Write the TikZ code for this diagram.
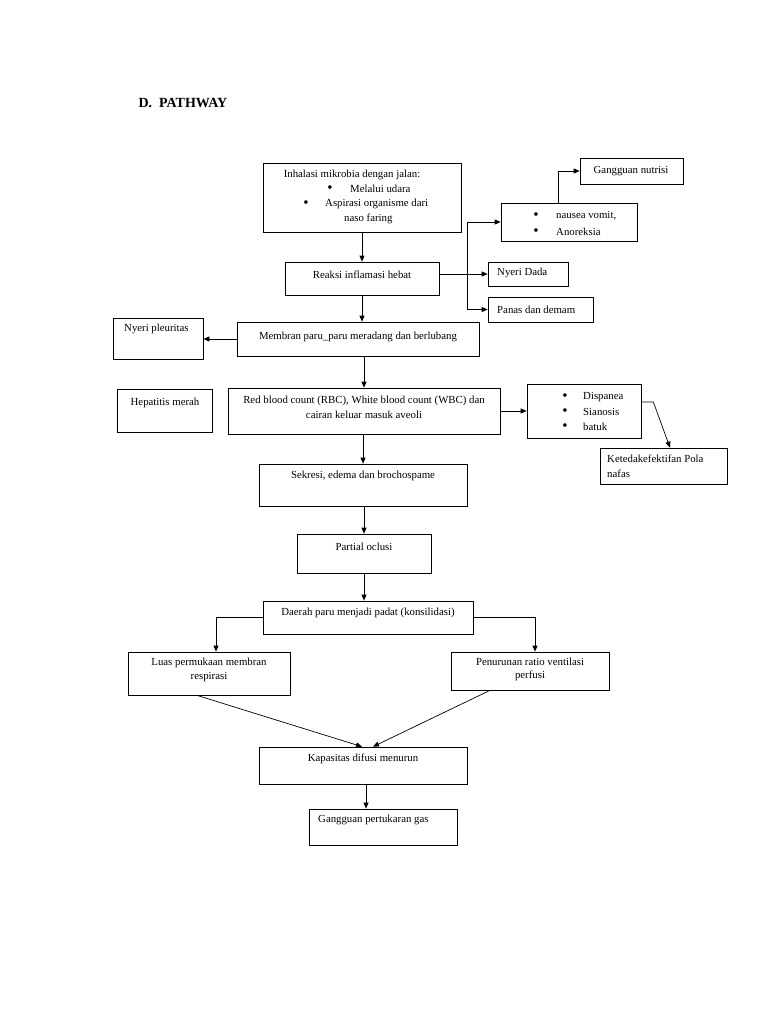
\documentclass[tikz,border=0pt]{standalone}
\usepackage{fontspec}
\setmainfont{Liberation Serif}
\usetikzlibrary{arrows.meta}
\tikzset{
  box/.style={draw, line width=0.7pt, inner sep=0pt},
  txt/.style={font=\fontsize{10.8}{12}\selectfont, inner sep=0pt},
  bul/.style={font=\fontsize{15}{15}\selectfont, inner sep=0pt},
  arr/.style={line width=0.7pt, -{Triangle[length=6pt,width=5pt]}},
}
\begin{document}
\begin{tikzpicture}[x=1pt,y=-1pt]
\useasboundingbox (0,0) rectangle (768,1024);
\node[font=\bfseries\fontsize{14}{16}\selectfont, anchor=west] (title) at (135,103) {D.\ \ PATHWAY};
% main column
\node[box, minimum width=198, minimum height=69] (inh) at (362,197.5){};
\node[txt] (inh0) at (352,175){Inhalasi mikrobia dengan jalan:};
\node[bul] (inh1b) at (330,189){•};
\node[txt, anchor=west] (inh1) at (350,189){Melalui udara};
\node[bul] (inh2b) at (306,204){•};
\node[txt, anchor=west] (inh2) at (325,204){Aspirasi organisme dari};
\node[txt, anchor=west] (inh3) at (344,219){naso faring};
\node[box, minimum width=154, minimum height=33] (reak) at (362,278.5){};
\node[txt] (reakT) at (362,275){Reaksi inflamasi hebat};
\node[box, minimum width=242, minimum height=34] (mem) at (358,339){};
\node[txt] (memT) at (358,337){Membran paru\_paru meradang dan berlubang};
\node[box, minimum width=272, minimum height=46] (rbc) at (364,411){};
\node[txt] (rbc1) at (364,401){Red blood count (RBC), White blood count (WBC) dan};
\node[txt] (rbc2) at (364,415){cairan keluar masuk aveoli};
\node[box, minimum width=208, minimum height=42] (sek) at (363,485){};
\node[txt] (sekT) at (363,476){Sekresi, edema dan brochospame};
\node[box, minimum width=134, minimum height=39] (par) at (364,553.5){};
\node[txt] (parT) at (364,547){Partial oclusi};
\node[box, minimum width=210, minimum height=33] (dae) at (368,617.5){};
\node[txt] (daeT) at (368,613){Daerah paru menjadi padat (konsilidasi)};
\node[box, minimum width=162, minimum height=43] (luas) at (209,673.5){};
\node[txt] (luas1) at (209,663){Luas permukaan membran};
\node[txt] (luas2) at (209,677){respirasi};
\node[box, minimum width=158, minimum height=38] (pen) at (530,671){};
\node[txt] (pen1) at (530,662){Penurunan ratio ventilasi};
\node[txt] (pen2) at (530,676){perfusi};
\node[box, minimum width=208, minimum height=37] (kap) at (363,765.5){};
\node[txt] (kapT) at (363,759){Kapasitas difusi menurun};
\node[box, minimum width=148, minimum height=36] (gan) at (383,827){};
\node[txt, anchor=west] (ganT) at (318,820){Gangguan pertukaran gas};
% left side
\node[box, minimum width=90, minimum height=41] (nyp) at (158,338.5){};
\node[txt, anchor=west] (nypT) at (124,329){Nyeri pleuritas};
\node[box, minimum width=95, minimum height=43] (hep) at (164.5,410.5){};
\node[txt] (hepT) at (165,403){Hepatitis merah};
% right side
\node[box, minimum width=103, minimum height=26] (gnut) at (631.5,171){};
\node[txt] (gnutT) at (631,171){Gangguan nutrisi};
\node[box, minimum width=136, minimum height=38] (nau) at (569,222){};
\node[bul] (nau1b) at (536,216){•};
\node[txt, anchor=west] (nau1) at (556,216){nausea vomit,};
\node[bul] (nau2b) at (536,232){•};
\node[txt, anchor=west] (nau2) at (556,232){Anoreksia};
\node[box, minimum width=80, minimum height=24] (nye) at (528,274){};
\node[txt, anchor=west] (nyeT) at (497,273){Nyeri Dada};
\node[box, minimum width=105, minimum height=25] (pan) at (540.5,309.5){};
\node[txt, anchor=west] (panT) at (497,310){Panas dan demam};
\node[box, minimum width=114, minimum height=54] (dis) at (584,411){};
\node[bul] (dis1b) at (565,397){•};
\node[txt, anchor=west] (dis1) at (583,397){Dispanea};
\node[bul] (dis2b) at (565,412){•};
\node[txt, anchor=west] (dis2) at (583,412){Sianosis};
\node[bul] (dis3b) at (565,427){•};
\node[txt, anchor=west] (dis3) at (583,427){batuk};
\node[box, minimum width=127, minimum height=36] (ket) at (663.5,466){};
\node[txt, anchor=west] (ket1) at (607,459){Ketedakefektifan Pola};
\node[txt, anchor=west] (ket2) at (607,474){nafas};
% connectors
\coordinate (sp) at (467,274);
\draw[arr] (inh.south) -- (reak.north);
\draw[arr] (reak.south) -- (reak.south |- mem.north);
\draw[arr] (rbc.north |- mem.south) -- (rbc.north);
\draw[arr] (sek.north |- rbc.south) -- (sek.north);
\draw[arr] (par.north |- sek.south) -- (par.north);
\draw[arr] (par.south) -- (par.south |- dae.north);
\draw[arr] (mem.west) -- (nyp.east |- mem.west);
\draw[arr] (reak.east |- nye.west) -- (nye.west);
\draw[arr] (sp) |- (nau.west);
\draw[arr] (sp) |- (pan.west);
\draw[arr] ([xshift=-11pt]nau.north) |- (gnut.west);
\draw[arr] (rbc.east) -- (dis.west);
\draw[arr] ([yshift=9pt]dis.east) -- ++(12,0) -- ([xshift=6.5pt]ket.north);
\draw[arr] (dae.west) -| ([xshift=7pt]luas.north);
\draw[arr] (dae.east) -| ([xshift=5pt]pen.north);
\draw[arr] ([xshift=-12pt]luas.south) -- ([xshift=-1pt]kap.north);
\draw[arr] ([xshift=-40pt]pen.south) -- ([xshift=10pt]kap.north);
\draw[arr] ([xshift=3pt]kap.south) -- ([xshift=3pt]kap.south |- gan.north);
\end{tikzpicture}
\end{document}
